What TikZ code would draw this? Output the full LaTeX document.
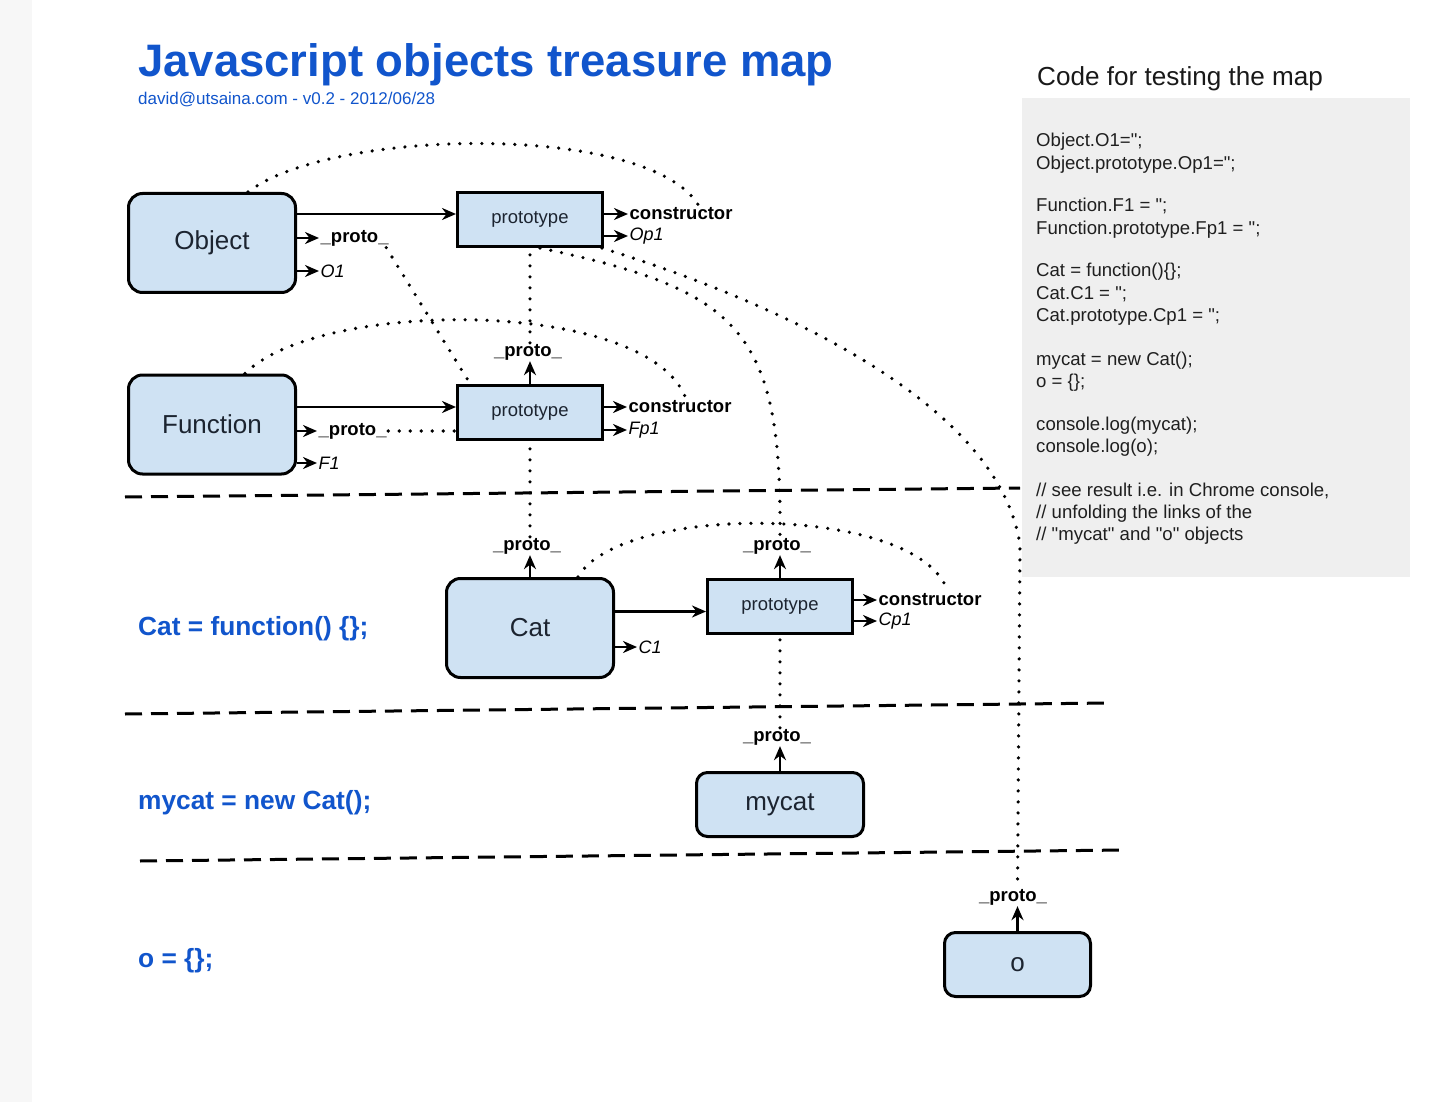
\documentclass[tikz,border=0pt]{standalone}
\usepackage{fontspec}
\setmainfont{Liberation Sans}
\newfontfamily\codefont{Liberation Sans}
\usetikzlibrary{arrows.meta}
\definecolor{jsblue}{HTML}{1155CC}
\definecolor{boxblue}{HTML}{CFE2F3}
\definecolor{codegray}{HTML}{EFEFEF}
\definecolor{stripgray}{HTML}{F7F7F7}
\definecolor{ink}{HTML}{1C2430}
\begin{document}
\begin{tikzpicture}[x=1pt,y=-1pt,
  bigbox/.style={draw=black, fill=boxblue, line width=3pt, rounded corners=14pt, minimum width=167pt, minimum height=99pt, font=\fontsize{26}{30}\selectfont, text=ink, inner sep=0pt},
  smallbox/.style={bigbox, minimum height=64pt, rounded corners=11pt},
  protobox/.style={draw=black, fill=boxblue, line width=3pt, minimum width=145pt, minimum height=54pt, font=\fontsize{18.5}{22}\selectfont, text=ink, inner sep=0pt},
  lbl/.style={anchor=west, inner sep=1.5pt, font=\bfseries\fontsize{18.5}{22}\selectfont},
  ilbl/.style={anchor=west, inner sep=1.5pt, font=\itshape\fontsize{18}{22}\selectfont},
  uplbl/.style={inner sep=1pt, font=\bfseries\fontsize{18.5}{22}\selectfont},
  arr/.style={line width=2.6pt, -{Stealth[length=14pt,width=12pt,inset=4.5pt]}},
  dotline/.style={line width=3.6pt, line cap=round, dash pattern=on 0pt off 11pt},
  sepline/.style={line width=3pt, dash pattern=on 17pt off 9pt},
  codeln/.style={anchor=base west, inner sep=0pt, font=\codefont\fontsize{18.6}{22}\selectfont, text=black!88},
  sidelbl/.style={anchor=base west, inner sep=0pt, font=\bfseries\fontsize{26.3}{30}\selectfont, text=jsblue}
]
\fill[white] (0,0) rectangle (1452,1102);
\fill[stripgray] (0,0) rectangle (32,1102);
\useasboundingbox (0,0) rectangle (1452,1102);

% title
\node[anchor=base west, inner sep=0pt, font=\bfseries\fontsize{45.5}{50}\selectfont, text=jsblue] (title) at (138,77) {Javascript objects treasure map};
\node[anchor=base west, inner sep=0pt, font=\fontsize{17}{20}\selectfont, text=jsblue] (sub) at (138,105) {david@utsaina.com - v0.2 - 2012/06/28};

% code panel
\node[anchor=base west, inner sep=0pt, font=\fontsize{26.1}{30}\selectfont, text=black!90] (codehead) at (1037,86) {Code for testing the map};
\node[fill=codegray, anchor=north west, minimum width=388pt, minimum height=479pt, inner sep=0pt] (codebox) at (1022,98) {};
\node[codeln] (c1) at (1036,147) {Object.O1=";};
\node[codeln] (c2) at (1036,170) {Object.prototype.Op1=";};
\node[codeln] (c3) at (1036,212) {Function.F1 = ";};
\node[codeln] (c4) at (1036,235) {Function.prototype.Fp1 = ";};
\node[codeln] (c5) at (1036,277) {Cat = function()\{\};};
\node[codeln] (c6) at (1036,300) {Cat.C1 = ";};
\node[codeln] (c7) at (1036,322) {Cat.prototype.Cp1 = ";};
\node[codeln] (c8) at (1036,365) {mycat = new Cat();};
\node[codeln] (c9) at (1036,387) {o = \{\};};
\node[codeln] (c10) at (1036,430) {console.log(mycat);};
\node[codeln] (c11) at (1036,452) {console.log(o);};
\node[codeln] (c12) at (1036,496) {// see result i.e. in Chrome console,};
\node[codeln] (c13) at (1036,518) {// unfolding the links of the};
\node[codeln] (c14) at (1036,540) {// "mycat" and "o" objects};

% separators
\draw[sepline] (125,497) -- (1020,488);
\draw[sepline] (125,714) -- (1110,703);
\draw[sepline] (140,861) -- (1125,850);

% left labels
\node[sidelbl] (lcat) at (138,635) {Cat = function() \{\};};
\node[sidelbl] (lmycat) at (138,809) {mycat = new Cat();};
\node[sidelbl] (lo) at (138,967) {o = \{\};};

% boxes
\node[bigbox] (obj) at (212,243) {Object};
\node[protobox] (objp) at (530,219.5) {prototype};
\node[bigbox] (fn) at (212,424.5) {Function};
\node[protobox] (fnp) at (530,412) {prototype};
\node[bigbox] (cat) at (530,628) {Cat};
\node[protobox] (catp) at (780,606.5) {prototype};
\node[smallbox] (mycat) at (780,804.5) {mycat};
\node[smallbox, minimum width=146pt] (o) at (1017.5,964.5) {o};

% labels
\node[lbl] (objc) at (628,214) {constructor};
\node[ilbl] (objop) at (628,236) {Op1};
\node[lbl] (objpr) at (319,238) {\_proto\_};
\node[ilbl] (objo1) at (319,271) {O1};
\node[lbl] (fnc) at (627,407) {constructor};
\node[ilbl] (fnfp) at (627,430) {Fp1};
\node[lbl] (fnpr) at (317,431) {\_proto\_};
\node[ilbl] (fnf1) at (317,463) {F1};
\node[uplbl] (fnpup) at (528,352) {\_proto\_};
\node[uplbl] (catup) at (527,546) {\_proto\_};
\node[ilbl] (catc1) at (637,647) {C1};
\node[lbl] (catc) at (877,600) {constructor};
\node[ilbl] (catcp) at (877,621) {Cp1};
\node[uplbl] (catpup) at (777,546) {\_proto\_};
\node[uplbl] (mycatup) at (777,737) {\_proto\_};
\node[uplbl] (oup) at (1013,897) {\_proto\_};

% solid arrows
\draw[arr] (obj.east |- objc.west) -- (objp.west |- objc.west);
\draw[arr] (objp.east |- objc.west) -- (objc.west);
\draw[arr] (objp.east |- objop.west) -- (objop.west);
\draw[arr] (obj.east |- objpr.west) -- (objpr.west);
\draw[arr] (obj.east |- objo1.west) -- (objo1.west);

\draw[arr] (fn.east |- fnc.west) -- (fnp.west |- fnc.west);
\draw[arr] (fnp.east |- fnc.west) -- (fnc.west);
\draw[arr] (fnp.east |- fnfp.west) -- (fnfp.west);
\draw[arr] (fn.east |- fnpr.west) -- (fnpr.west);
\draw[arr] (fn.east |- fnf1.west) -- (fnf1.west);
\draw[arr] (fnp.north) -- (fnp.north |- fnpup.south);

\coordinate (catin) at ([yshift=-5pt]catp.west);
\draw[arr] (cat.east |- catin) -- (catin);
\draw[arr] (cat.east |- catc1.west) -- (catc1.west);
\draw[arr] (cat.north) -- (cat.north |- catup.south);
\draw[arr] (catp.east |- catc.west) -- (catc.west);
\draw[arr] (catp.east |- catcp.west) -- (catcp.west);
\draw[arr] (catp.north) -- (catp.north |- catpup.south);
\draw[arr] (mycat.north) -- (mycat.north |- mycatup.south);
\draw[arr] (o.north) -- (o.north |- oup.south);

% dotted links
\draw[dotline] (fnp.north |- fnpup.north) -- (objp.south);
\draw[dotline] (cat.north |- catup.north) -- (fnp.south);
\draw[dotline] (catp.north |- mycatup.north) -- (catp.south);
\draw[dotline] ([xshift=10pt]objp.south) .. controls (740,290) and (782,330) .. (catp.north |- catpup.north);
\coordinate (obend) at (1020,545);
\draw[dotline] ([xshift=72pt]objp.south) .. controls (800,310) and (1000,410) .. (obend) -- (o.north |- oup.north);
\draw[dotline] ([xshift=-4pt]objpr.south east) -- ([xshift=14pt]fnp.north west);
\draw[dotline] (fnpr.east) -- (fnp.west |- fnpr.east);

% constructor arcs
\draw[dotline] ([xshift=36pt]obj.north) .. controls (330,128) and (650,122) .. ([xshift=18pt]objc.north);
\draw[dotline] ([xshift=33pt]fn.north) .. controls (320,298) and (650,298) .. ([xshift=6pt]fnc.north);
\draw[dotline] ([xshift=48pt]cat.north) .. controls (620,503) and (920,503) .. ([xshift=18pt]catc.north);
\end{tikzpicture}
\end{document}
